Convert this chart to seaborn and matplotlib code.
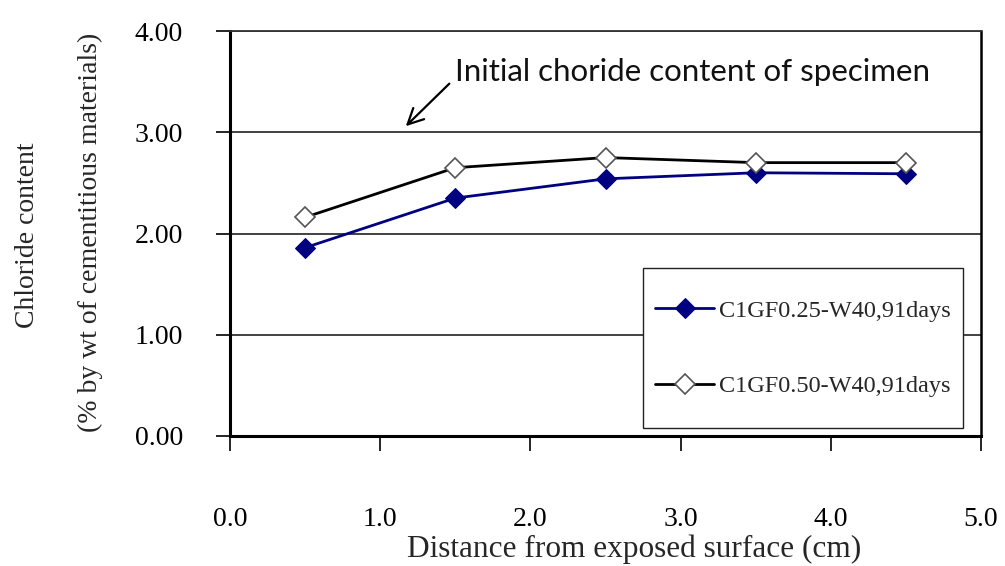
import matplotlib
matplotlib.use("Agg")
import matplotlib.pyplot as plt
from matplotlib.patches import Rectangle
import seaborn as sns
import pandas as pd

sns.set_style("white")

distance = [0.5, 1.5, 2.5, 3.5, 4.5]
chloride_025 = [1.86, 2.35, 2.54, 2.60, 2.59]
chloride_050 = [2.16, 2.65, 2.75, 2.70, 2.70]
label_025 = "C1GF0.25-W40,91days"
label_050 = "C1GF0.50-W40,91days"
x_ticks = [0.0, 1.0, 2.0, 3.0, 4.0, 5.0]
y_ticks = [0.0, 1.0, 2.0, 3.0, 4.0]

serif = "Liberation Serif"

fig = plt.figure(figsize=(10.05, 5.66), dpi=100)
ax = fig.add_axes([0.2289, 0.2297, 0.7473, 0.7155])

df1 = pd.DataFrame({"x": distance, "y": chloride_025})
df2 = pd.DataFrame({"x": distance, "y": chloride_050})

sns.lineplot(data=df1, x="x", y="y", ax=ax, color="#000080", lw=2,
             marker="D", markersize=10, markerfacecolor="#000080",
             markeredgecolor="#000080", label=label_025, zorder=4)
sns.lineplot(data=df2, x="x", y="y", ax=ax, color="black", lw=2,
             marker="D", markersize=10, markerfacecolor="white",
             markeredgecolor="#555555", markeredgewidth=1.2, label=label_050, zorder=4)

ax.set_xlim(0, 5)
ax.set_ylim(0, 4)
ax.set_xticks(x_ticks)
ax.set_yticks(y_ticks)
ax.set_xticklabels([f"{v:.1f}" for v in x_ticks], fontfamily=serif, fontsize=20)
ax.set_yticklabels([f"{v:.2f}" for v in y_ticks], fontfamily=serif, fontsize=20)
ax.tick_params(axis="x", direction="out", length=11, width=1.2, pad=40, colors="black")
ax.tick_params(axis="y", direction="out", length=10, width=1.2, pad=24, colors="black")
ax.tick_params(axis="both", bottom=True, left=True)

for yv in [1.0, 2.0, 3.0, 4.0]:
    ax.axhline(yv, color="#333333", lw=1.3, zorder=0)

for side in ["left", "bottom"]:
    ax.spines[side].set_linewidth(2.2)
    ax.spines[side].set_color("black")
ax.spines["right"].set_linewidth(1.8)
ax.spines["right"].set_color("black")
ax.spines["top"].set_linewidth(1.3)
ax.spines["top"].set_color("#333333")

ax.set_xlabel("Distance from exposed surface (cm)", fontfamily=serif, fontsize=22.5)
ax.xaxis.set_label_coords(0.538, -0.243)
ax.set_ylabel("")

fig.text(0.027, 0.585, "Chloride content", rotation=90, ha="center", va="center",
         fontfamily=serif, fontsize=20)
fig.text(0.09, 0.59, "(% by wt of cementitious materials)", rotation=90,
         ha="center", va="center", fontfamily=serif, fontsize=20)

# annotation text and its arrow
ax.text(1.50, 3.60, "Initial choride content of specimen", fontfamily="Lato",
        fontsize=22.5, va="center", ha="left", color="#111111")
ax.annotate("", xy=(1.17, 3.06), xytext=(1.46, 3.48),
            arrowprops=dict(arrowstyle="->", color="black", lw=1.6, mutation_scale=28,
                            shrinkA=0, shrinkB=0))

# legend box
ax.add_patch(Rectangle((0.550, 0.020), 0.426, 0.395, transform=ax.transAxes,
                       facecolor="white", edgecolor="#222222", lw=1.0, zorder=5))
leg = ax.legend(loc="center", bbox_to_anchor=(0.763, 0.216), frameon=False,
                prop={"family": serif, "size": 17.5},
                labelspacing=2.2, handlelength=2.43, handletextpad=0.2,
                borderpad=0, borderaxespad=0)
leg.set_zorder(6)

fig.savefig("out.png", dpi=100, facecolor="white")
